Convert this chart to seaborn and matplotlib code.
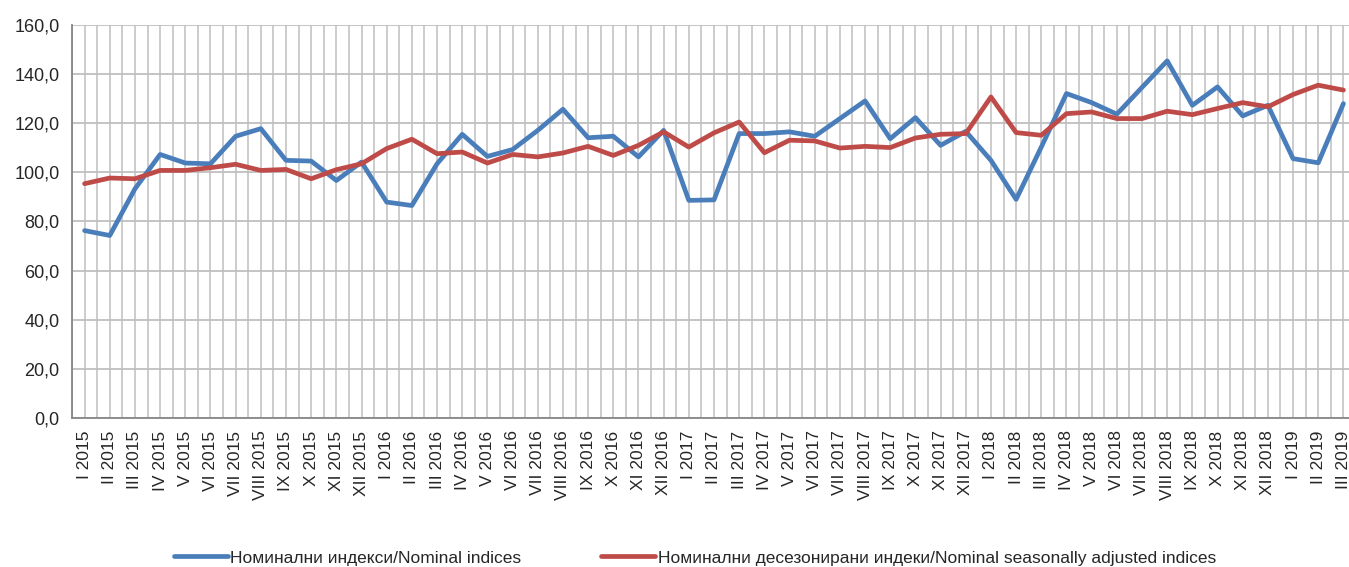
import numpy as np
import pandas as pd
import matplotlib
matplotlib.use("Agg")
import matplotlib.pyplot as plt
import seaborn as sns

# Months I 2015 .. III 2019
romans = ['I', 'II', 'III', 'IV', 'V', 'VI', 'VII', 'VIII', 'IX', 'X', 'XI', 'XII']
years = [2015, 2016, 2017, 2018, 2019]
months = [f'{r} {y}' for y in years for r in romans][:51]

nominal = [76.3, 74.3, 93.3, 107.3, 103.8, 103.5, 114.7, 117.8, 104.9, 104.6, 96.7, 104.2,
           87.9, 86.5, 103.5, 115.5, 106.5, 109.3, 117.1, 125.7, 114.1, 114.7, 106.3, 117.1,
           88.6, 88.8, 115.8, 115.8, 116.5, 114.7, 121.9, 129.1, 113.7, 122.3, 111.0, 116.7,
           104.9, 89.0, 110.3, 132.1, 128.4, 123.7, 134.6, 145.4, 127.3, 134.8, 123.0, 127.3,
           105.6, 103.9, 128.0]
adjusted = [95.4, 97.7, 97.4, 100.8, 100.8, 101.9, 103.3, 100.8, 101.2, 97.4, 101.1, 103.5,
            109.7, 113.5, 107.6, 108.3, 103.8, 107.3, 106.3, 107.9, 110.6, 106.9, 111.0, 116.5,
            110.3, 116.1, 120.5, 108.0, 113.1, 112.8, 109.9, 110.6, 110.1, 114.0, 115.5, 115.8,
            130.7, 116.2, 115.1, 123.9, 124.6, 121.9, 121.9, 124.9, 123.5, 126.0, 128.4, 126.7,
            131.7, 135.5, 133.5]

series_names = ['Номинални индекси/Nominal indices',
                'Номинални десезонирани индеки/Nominal seasonally adjusted indices']
colors = ['#4A7EBB', '#BE4B48']

df = pd.DataFrame({
    'pos': list(range(len(months))) * 2,
    'value': nominal + adjusted,
    'series': [series_names[0]] * len(months) + [series_names[1]] * len(months),
})

sns.set_style('white')
plt.rcParams['font.family'] = ['Liberation Sans Narrow', 'Liberation Sans', 'DejaVu Sans']

fig = plt.figure(figsize=(13.49, 5.67), dpi=100)
ax = fig.add_axes([72 / 1349, 149 / 567, 1284 / 1349, 393 / 567])

sns.lineplot(data=df, x='pos', y='value', hue='series', palette=colors,
             linewidth=3.4, ax=ax, legend=False, sort=False)

ax.set_xlim(-0.5, len(months) - 0.5)
ax.set_ylim(0, 160)
ax.set_yticks(np.arange(0, 161, 20))
ax.set_yticklabels([f'{v:.1f}'.replace('.', ',') for v in np.arange(0, 161, 20)], fontsize=13)

ax.set_xticks(range(len(months)))
ax.set_xticklabels(months, rotation=90, fontsize=12.5)
ax.set_xticks(np.arange(-0.5, len(months), 1), minor=True)
ax.tick_params(axis='x', which='major', length=0, pad=9)
ax.tick_params(axis='x', which='minor', length=6, color='#868686', width=1.2, direction='out')
ax.tick_params(axis='y', which='major', length=6, color='#868686', width=1.2, direction='out', pad=3)

ax.grid(True, axis='y', color='#BFBFBF', linewidth=1.3)
ax.grid(True, axis='x', which='both', color='#C8C8C8', linewidth=1.3)
ax.set_axisbelow(True)

for s in ['top', 'right']:
    ax.spines[s].set_visible(False)
for s in ['left', 'bottom']:
    ax.spines[s].set_color('#868686')
    ax.spines[s].set_linewidth(1.3)

ax.set_xlabel('')
ax.set_ylabel('')

handles = [plt.Line2D([], [], color=c, linewidth=3.4) for c in colors]
fig.legend(handles, series_names, loc='lower center', bbox_to_anchor=(0.515, -0.025),
           ncol=2, frameon=False, fontsize=12.5, handlelength=3.1, handletextpad=0.15,
           columnspacing=4.6)

fig.savefig('out.png', dpi=100)
